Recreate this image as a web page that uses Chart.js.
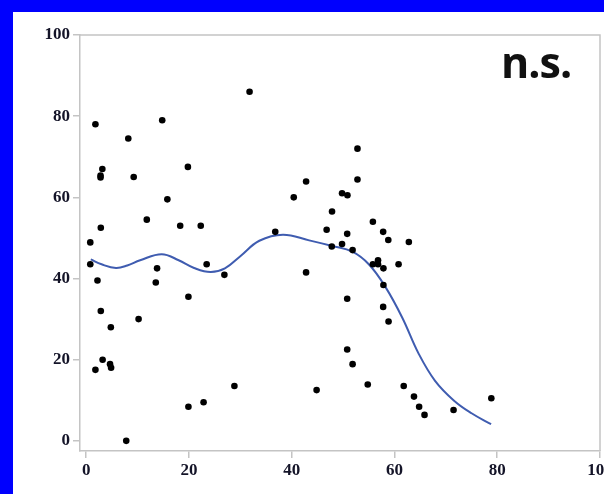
<!DOCTYPE html>
<html>
<head>
<meta charset="utf-8">
<script src="https://cdn.jsdelivr.net/npm/chart.js@4"></script>
<style>
  html, body { margin: 0; padding: 0; }
  body { width: 604px; height: 494px; background: #0000fe; position: relative; overflow: hidden; }
  #panel { position: absolute; left: 13px; top: 12px; width: 591px; height: 482px; background: #fff; }
  #chart { display: block; }
</style>
</head>
<body>
<div id="panel"><canvas id="chart" width="591" height="482"></canvas></div>
<script>
// observed points
const xs = [0.8, 0.8, 1.8, 1.8, 2.2, 2.85, 2.8, 2.8, 3.15, 2.85, 3.2, 4.65, 4.85, 4.8, 7.8, 8.2, 9.25, 10.2, 11.8, 13.55,
  13.8, 14.8, 15.8, 18.3, 19.8, 19.9, 19.9, 22.3, 22.85, 23.45, 26.9, 28.85, 31.8, 36.8, 40.4, 42.8, 42.8, 44.85, 46.8, 47.85,
  47.8, 49.8, 49.8, 50.85, 50.8, 50.8, 50.8, 51.85, 51.85, 52.8, 52.8, 54.8, 55.8, 55.8, 56.8, 56.8, 57.8, 57.85, 57.85, 57.8,
  58.8, 58.85, 60.8, 61.8, 62.8, 63.8, 64.8, 65.85, 71.5, 78.85];
const ys = [48.9, 43.5, 78.0, 17.5, 39.5, 52.5, 65.4, 64.9, 67.0, 32.0, 20.0, 18.9, 18.0, 28.0, 0.0, 74.5, 65.0, 30.0, 54.5, 39.0,
  42.5, 79.0, 59.5, 53.0, 67.5, 35.5, 8.4, 53.0, 9.5, 43.5, 40.9, 13.5, 86.0, 51.5, 60.0, 63.9, 41.5, 12.5, 52.0, 56.5,
  47.9, 61.0, 48.5, 60.5, 51.0, 35.0, 22.5, 47.0, 18.9, 72.0, 64.4, 13.9, 54.0, 43.5, 44.5, 43.5, 51.5, 42.5, 38.4, 33.0,
  49.5, 29.4, 43.5, 13.5, 49.0, 10.9, 8.4, 6.4, 7.6, 10.5];

// smoothed fit
const fitX = [0.9, 3, 5.8, 8, 10.5, 14.7, 18, 21, 24.2, 27, 30, 33.7, 38.3, 43.4, 47.9, 51.8, 55, 58.2, 61.5, 64.7, 67.9, 71.6, 75, 78.8];
const fitY = [44.7, 43.5, 42.6, 43.2, 44.5, 46.0, 44.5, 42.6, 41.6, 42.5, 45.5, 49.3, 50.8, 49.4, 48.0, 46.6, 43.5, 38.0, 30.4, 21.5, 14.8, 9.9, 6.8, 4.1];

const xTicks = [0, 20, 40, 60, 80, 100];
const yTicks = [0, 20, 40, 60, 80, 100];
const note = "n.s.";

const axisGrey = "#c4c4c4";
const tickFont = { family: "'Liberation Serif', 'DejaVu Serif', serif", size: 17, weight: "bold" };

const frame = {
  id: "frame",
  afterDraw(chart) {
    const a = chart.chartArea, ctx = chart.ctx;
    ctx.save();
    ctx.strokeStyle = axisGrey;
    ctx.lineWidth = 1.5;
    ctx.beginPath();
    ctx.moveTo(a.left, a.top);
    ctx.lineTo(a.right, a.top);
    ctx.lineTo(a.right, a.bottom);
    ctx.stroke();
    ctx.fillStyle = "#111";
    ctx.font = "bold 43px 'Open Sans', sans-serif";
    ctx.letterSpacing = "-1px";
    ctx.textBaseline = "alphabetic";
    ctx.fillText(note, 488, 66);
    ctx.restore();
  }
};

function keepTicks(list) {
  return scale => { scale.ticks = list.map(v => ({ value: v })); };
}

new Chart(document.getElementById("chart"), {
  type: "scatter",
  data: {
    datasets: [
      {
        data: xs.map((x, i) => ({ x: x, y: ys[i] })),
        backgroundColor: "#000",
        borderWidth: 0,
        pointRadius: 3.3,
        order: 0
      },
      {
        data: fitX.map((x, i) => ({ x: x, y: fitY[i] })),
        showLine: true,
        borderColor: "#3f5cb0",
        borderWidth: 2,
        pointRadius: 0,
        tension: 0.4,
        order: 1
      }
    ]
  },
  options: {
    responsive: false,
    animation: false,
    layout: { padding: { top: 23, right: 2, left: 0, bottom: 0 } },
    plugins: { legend: { display: false }, tooltip: { enabled: false } },
    scales: {
      x: {
        min: -1.2,
        max: 100,
        afterBuildTicks: keepTicks(xTicks),
        afterFit(s) { s.height = 43; s.paddingLeft = 0; s.paddingRight = 0; },
        grid: { drawOnChartArea: false, color: axisGrey, tickLength: 7, lineWidth: 1.5 },
        border: { color: axisGrey, width: 1.5 },
        ticks: { font: tickFont, color: "#141428", padding: 2, maxRotation: 0, autoSkip: false }
      },
      y: {
        min: -2.5,
        max: 100,
        afterBuildTicks: keepTicks(yTicks),
        afterFit(s) { s.width = 67; s.paddingTop = 0; s.paddingBottom = 0; },
        grid: { drawOnChartArea: false, color: axisGrey, tickLength: 7, lineWidth: 1.5 },
        border: { color: axisGrey, width: 1.5 },
        ticks: { font: tickFont, color: "#141428", padding: 3, autoSkip: false }
      }
    }
  },
  plugins: [frame]
});
</script>
</body>
</html>
